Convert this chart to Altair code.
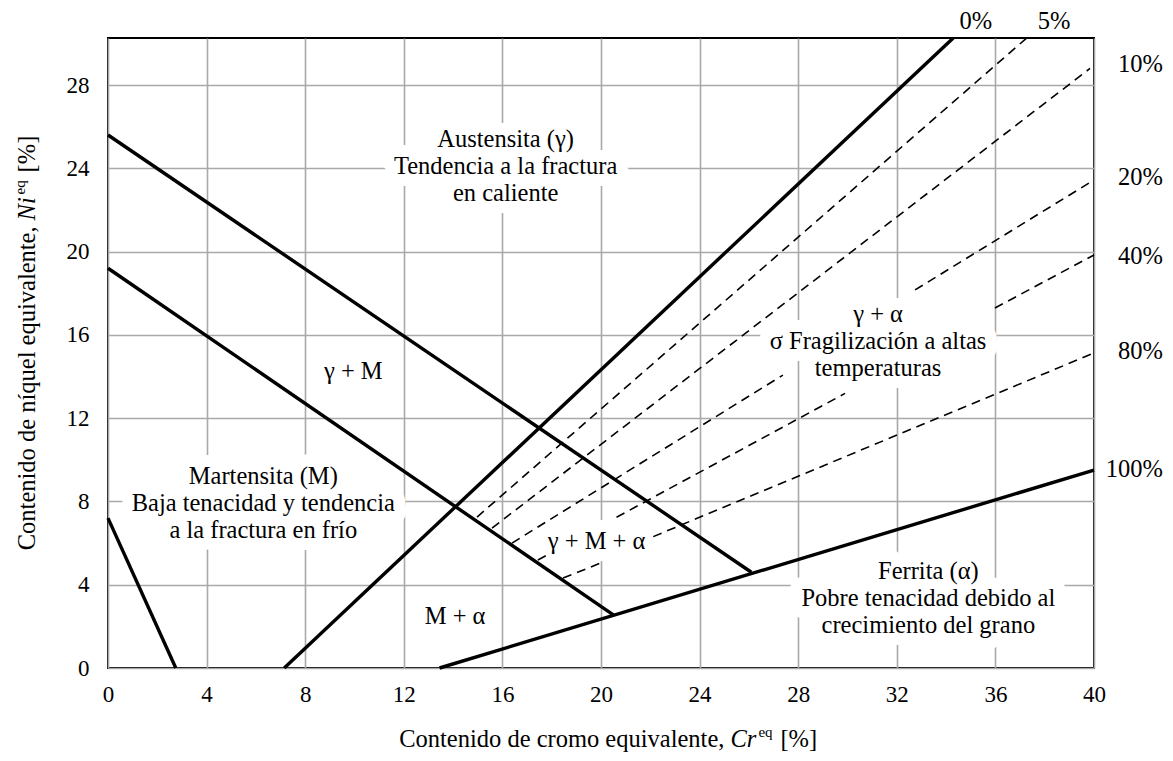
import altair as alt
import pandas as pd

FONT = "Liberation Serif"

# ---------------- data (Cr_eq, Ni_eq in %) ----------------
x_ticks = [0, 4, 8, 12, 16, 20, 24, 28, 32, 36, 40]
y_ticks = [0, 4, 8, 12, 16, 20, 24, 28]

# solid boundary lines
solid_ids = ["m_limit", "gm_low", "gm_high", "f0", "f100"]
solid_x = [[0, 2.75], [0, 20.5], [0, 26.1], [7.15, 34.29], [13.45, 40]]
solid_y = [[7.2, 0], [19.2, 2.55], [25.6, 4.6], [0, 30.26], [0, 9.51]]

# dashed iso-ferrite lines (split where labels interrupt them)
dashed_ids = ["f5", "f10", "f20a", "f20b", "f40a", "f40b", "f40c", "f80a", "f80b"]
dashed_x = [[14.97, 37.27], [15.58, 39.84], [16.39, 27.38], [32.74, 40],
            [17.44, 17.8], [20.63, 29.9], [35.98, 40], [18.46, 19.96], [22.12, 40]]
dashed_y = [[7.25, 30.26], [6.72, 28.8], [6.0, 14.07], [18.16, 23.44],
            [5.19, 5.42], [7.24, 13.19], [17.29, 19.84], [4.32, 5.03], [6.31, 15.13]]

# region annotations (position = centre of first line)
ann_text = [
    "Austensita (γ)\nTendencia a la fractura\nen caliente",
    "γ + M",
    "Martensita (M)\nBaja tenacidad y tendencia\na la fractura en frío",
    "M + α",
    "γ + M + α",
    "γ + α\nσ Fragilización a altas\ntemperaturas",
    "Ferrita (α)\nPobre tenacidad debido al\ncrecimiento del grano",
]
ann_x = [16.13, 9.95, 6.3, 14.08, 19.82, 31.24, 33.28]
ann_y = [25.36, 14.23, 9.19, 2.46, 6.07, 16.95, 4.63]

# ferrite percentage labels
top_pct = ["0%", "5%"]
top_pct_x = [35.21, 38.38]
top_pct_y = [31.03, 31.03]
side_pct = ["10%", "20%", "40%", "80%", "100%"]
side_pct_x = [42.8, 42.8, 42.8, 42.8, 42.8]
side_pct_y = [28.96, 23.54, 19.74, 15.18, 9.51]

# axis titles (anchor where the italic symbol starts)
xt_anchor = (25.25, -3.8)
yt_anchor = (-2.95, 21.5)


def segs(ids, xs, ys):
    rows = []
    for i, xx, yy in zip(ids, xs, ys):
        for k, (a, b) in enumerate(zip(xx, yy)):
            rows.append({"id": i, "o": k, "x": a, "y": b})
    return pd.DataFrame(rows)


solid_df = segs(solid_ids, solid_x, solid_y)
dashed_df = segs(dashed_ids, dashed_x, dashed_y)
ann_df = pd.DataFrame({"x": ann_x, "y": ann_y, "t": ann_text})
top_df = pd.DataFrame({"x": top_pct_x, "y": top_pct_y, "t": top_pct})
side_df = pd.DataFrame({"x": side_pct_x, "y": side_pct_y, "t": side_pct})

xs = alt.Scale(domain=[0, 40], nice=False, zero=False)
ys = alt.Scale(domain=[0, 30.26], nice=False, zero=False)

common_axis = dict(grid=True, ticks=False, tickSize=0, domain=False, title=None,
                   labelFont=FONT, labelFontSize=23, labelColor="black",
                   gridColor="#a9a9a9", gridWidth=1.6, labelFlush=False,
                   labelOverlap=False)
x_axis = alt.Axis(values=x_ticks, labelPadding=15, **common_axis)
y_axis = alt.Axis(values=y_ticks, labelPadding=19, **common_axis)

base_enc = dict(
    x=alt.X("x:Q", scale=xs, axis=x_axis),
    y=alt.Y("y:Q", scale=ys, axis=y_axis),
)

FS = 24.5

solid = alt.Chart(solid_df).mark_line(color="black", strokeWidth=3.4, strokeCap="butt").encode(
    **base_enc, detail="id:N", order="o:Q")
dashed = alt.Chart(dashed_df).mark_line(color="black", strokeWidth=1.6, strokeDash=[9, 6]).encode(
    x="x:Q", y="y:Q", detail="id:N", order="o:Q")

halo = alt.Chart(ann_df).mark_text(font=FONT, fontSize=FS, lineBreak="\n", lineHeight=27,
                                   color="white", stroke="white", strokeWidth=24,
                                   strokeJoin="round", baseline="middle").encode(
    x="x:Q", y="y:Q", text="t:N")
ann = alt.Chart(ann_df).mark_text(font=FONT, fontSize=FS, lineBreak="\n", lineHeight=27,
                                  color="black", baseline="middle").encode(
    x="x:Q", y="y:Q", text="t:N")

top_lab = alt.Chart(top_df).mark_text(font=FONT, fontSize=FS, color="black",
                                      align="center", baseline="middle").encode(
    x="x:Q", y="y:Q", text="t:N")
side_lab = alt.Chart(side_df).mark_text(font=FONT, fontSize=FS, color="black",
                                        align="right", baseline="middle").encode(
    x="x:Q", y="y:Q", text="t:N")


def tpiece(anchor, text, align, dx=0, dy=0, size=FS, style="normal", angle=0):
    kw = dict(font=FONT, fontSize=size, fontStyle=style, color="black", align=align,
              baseline="alphabetic", dx=dx, dy=dy)
    if angle:
        kw["angle"] = angle
    return alt.Chart(pd.DataFrame({"x": [anchor[0]], "y": [anchor[1]], "t": [text]})).mark_text(**kw).encode(
        x="x:Q", y="y:Q", text="t:N")


xt = [
    tpiece(xt_anchor, "Contenido de cromo equivalente,", "right", dx=-6),
    tpiece(xt_anchor, "Cr", "left", style="italic"),
    tpiece(xt_anchor, "eq", "left", dx=28, dy=-10, size=15),
    tpiece(xt_anchor, "[%]", "left", dx=50),
]
yt = [
    tpiece(yt_anchor, "Contenido de níquel equivalente,", "right", dx=-6, angle=270),
    tpiece(yt_anchor, "Ni", "left", style="italic", angle=270),
    tpiece(yt_anchor, "eq", "left", dx=26, dy=-10, size=15, angle=270),
    tpiece(yt_anchor, "[%]", "left", dx=48, angle=270),
]

chart = alt.layer(solid, halo, dashed, ann, top_lab, side_lab, *xt, *yt).properties(
    width=986, height=630,
    autosize=alt.AutoSizeParams(type="none"),
    padding={"left": 100, "top": 30, "right": 71, "bottom": 85},
    background="white",
).configure_view(stroke="black", strokeWidth=2)

chart.save("out.html", embed_options={"renderer": "svg", "actions": False})
